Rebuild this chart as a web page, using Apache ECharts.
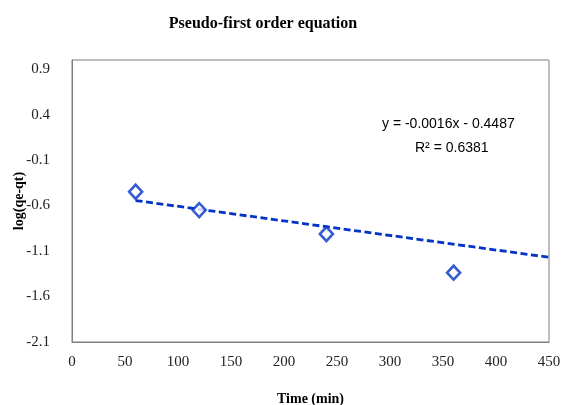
<!DOCTYPE html>
<html>
<head>
<meta charset="utf-8">
<script src="https://cdn.jsdelivr.net/npm/echarts@6/dist/echarts.min.js"></script>
<style>
  html, body { margin: 0; padding: 0; background: #fff; }
  #chart { width: 564px; height: 405px; }
</style>
</head>
<body>
<div id="chart"></div>
<script>
// Measured kinetics: time (min) vs log(qe - qt)
const timeMin = [60, 120, 240, 360];
const logQ = [-0.448, -0.650, -0.913, -1.338];

// Linear trendline coefficients, as reported on the chart
const slope = -0.0016;
const intercept = -0.4487;
const rSquared = 0.6381;
const trendRange = [60, 450];

const xTicks = [0, 50, 100, 150, 200, 250, 300, 350, 400, 450];
const yTicks = [-2.1, -1.6, -1.1, -0.6, -0.1, 0.4, 0.9];

const trendData = trendRange.map(x => [x, slope * x + intercept]);
const scatterData = timeMin.map((t, i) => [t, logQ[i]]);

const serif = '"Liberation Serif", "DejaVu Serif", serif';
const blue = '#0433c8';

const chart = echarts.init(document.getElementById('chart'), null, { renderer: 'canvas' });
chart.setOption({
  animation: false,
  backgroundColor: '#fff',
  title: {
    text: 'Pseudo-first order equation',
    left: 258, top: 11, textAlign: 'center',
    textStyle: { fontFamily: serif, fontWeight: 'bold', fontSize: 16, color: '#000' }
  },
  grid: {
    left: 72, right: 15, top: 60, bottom: 63,
    outerBoundsMode: 'none',
    containLabel: false,
    show: true, borderColor: '#7f7f7f', borderWidth: 1
  },
  xAxis: {
    type: 'value',
    min: xTicks[0], max: xTicks[xTicks.length - 1], interval: 50,
    name: 'Time (min)', nameLocation: 'middle', nameGap: 50,
    nameTextStyle: { fontFamily: serif, fontWeight: 'bold', fontSize: 14, color: '#000' },
    axisLine: { show: true, onZero: false, lineStyle: { color: '#7f7f7f' } },
    axisTick: { show: false },
    splitLine: { show: false },
    axisLabel: { margin: 13, fontFamily: serif, fontSize: 15, color: '#222' }
  },
  yAxis: {
    type: 'value',
    min: yTicks[0], max: 1.0, interval: 0.5,
    name: 'log(qe-qt)', nameLocation: 'middle', nameGap: 46, nameRotate: 90,
    nameMoveOverlap: false,
    nameTextStyle: { fontFamily: serif, fontWeight: 'bold', fontSize: 14, color: '#000' },
    axisLine: { show: true, onZero: false, lineStyle: { color: '#7f7f7f' } },
    axisTick: { show: false },
    splitLine: { show: false },
    axisLabel: {
      margin: 22, fontFamily: serif, fontSize: 15, color: '#222',
      showMaxLabel: false,
      formatter: v => {
        const hit = yTicks.find(t => Math.abs(t - v) < 1e-6);
        return hit === undefined ? '' : hit.toFixed(1);
      }
    }
  },
  series: [
    {
      type: 'line',
      data: trendData,
      symbol: 'none',
      lineStyle: { color: blue, width: 2.8, type: [7, 3.5] },
      z: 2
    },
    {
      type: 'scatter',
      data: scatterData,
      symbol: 'diamond',
      symbolSize: [13, 14],
      itemStyle: { color: '#fff', borderColor: blue, borderWidth: 2.6 },
      z: 3
    }
  ],
  graphic: [
    {
      type: 'text', left: 382, top: 117,
      style: {
        text: 'y = ' + slope.toFixed(4) + 'x - ' + Math.abs(intercept).toFixed(4),
        font: '14px "Liberation Sans Narrow", "Liberation Sans", sans-serif',
        fill: '#000'
      }
    },
    {
      type: 'text', left: 415, top: 141,
      style: {
        text: 'R² = ' + rSquared.toFixed(4),
        font: '14px "Liberation Sans Narrow", "Liberation Sans", sans-serif',
        fill: '#000'
      }
    }
  ]
});
</script>
</body>
</html>
